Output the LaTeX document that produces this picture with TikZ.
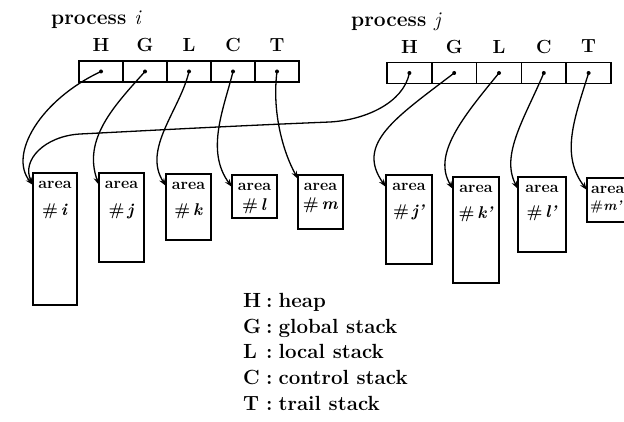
\documentclass[tikz,border=0pt]{standalone}
\usepackage{fontspec}
\usetikzlibrary{arrows.meta,calc}
\begin{document}
\begin{tikzpicture}[x=1pt,y=-1pt,
  cell/.style={draw, line width=1.5pt, minimum width=44pt, minimum height=21pt, inner sep=0pt, outer sep=0pt},
  abox/.style={draw, line width=1.9pt, inner sep=0pt, outer sep=0pt, anchor=north west},
  lbl/.style={font=\fontsize{19}{21}\selectfont\bfseries, inner sep=0pt},
  ptitle/.style={font=\fontsize{21}{23}\selectfont\bfseries\addfontfeatures{LetterSpace=8}, inner sep=0pt, anchor=base west},
  atext/.style={font=\fontsize{16}{18}\selectfont\bfseries, inner sep=0pt},
  ntext/.style={font=\fontsize{17}{19}\selectfont\bfseries, inner sep=0pt},
  ptr/.style={line width=1.3pt, -{Stealth[length=8pt,width=5.5pt]}},
  leg/.style={font=\fontsize{20.5}{23}\selectfont\bfseries, inner sep=0pt, anchor=base west},
  dot/.style={circle, fill, inner sep=0pt, minimum size=4pt}]
\clip (0,0) rectangle (624,422);
% process titles
\node[ptitle] (pti) at (51,25) {process {\mdseries\itshape i}};
\node[ptitle] (ptj) at (351,27) {process {\mdseries\itshape j}};
% registers of process i
\foreach \n/\l [count=\k from 0] in {hi/H,gi/G,li/L,ci/C,ti/T}{
  \node[cell] (\n) at (101+44*\k,71.5) {};
  \node[lbl] (\n lab) at ($(\n.north)+(0,-16)$) {\l};
  \node[dot] (\n dot) at (\n.center) {};
}
% registers of process j
\foreach \n/\l [count=\k from 0] in {hj/H,gj/G,lj/L,cj/C,tj/T}{
  \node[cell, minimum width=44.8pt] (\n) at (409.4+44.8*\k,73) {};
  \node[lbl] (\n lab) at ($(\n.north)+(0,-16)$) {\l};
  \node[dot] (\n dot) at (\n.center) {};
}
% area boxes
\node[abox, minimum width=44pt, minimum height=132pt] (ai) at (33,173) {};
\node[abox, minimum width=45pt, minimum height=89pt] (aj) at (99,173) {};
\node[abox, minimum width=45pt, minimum height=66pt] (ak) at (166,174) {};
\node[abox, minimum width=45pt, minimum height=43pt] (al) at (232,175) {};
\node[abox, minimum width=45pt, minimum height=54pt] (am) at (298,175) {};
\node[abox, minimum width=46pt, minimum height=89pt] (aj2) at (386,175) {};
\node[abox, minimum width=46pt, minimum height=106pt] (ak2) at (453,177) {};
\node[abox, minimum width=48pt, minimum height=75pt] (al2) at (518,177) {};
\node[abox, minimum width=46pt, minimum height=44pt] (am2) at (587,178) {};
% area texts
\foreach \b/\s/\d in {ai/i/38, aj/j/38, ak/k/37, al/l/31, am/m/30, aj2/j'/37, ak2/k'/37, al2/l'/36}{
  \node[atext] (\b t1) at ($(\b.north)+(0,12)$) {area};
  \node[ntext] (\b t2) at ($(\b.north)+(0,\d)$) {\#\,\textit{\s}};
}
\node[atext, anchor=west] (am2t1) at ($(am2.north west)+(4,12)$) {area};
\node[ntext, anchor=west, font=\fontsize{14}{16}\selectfont\bfseries] (am2t2) at ($(am2.north west)+(3,29)$) {\#\textit{m'}};
% arrow end points
\foreach \b in {ai,aj,ak,al,aj2,ak2,al2,am2}{
  \coordinate (\b e) at ($(\b.north west)+(0,12)$);
}
\coordinate (ame) at ($(am.north west)+(0,4)$);
\coordinate (w1) at (330,122);
\coordinate (w2) at (80,134);
% pointers of process i
\draw[ptr] (hi.center) .. controls +(-61,28.5) and +(-25,-30) .. (aie);
\draw[ptr] (gi.center) .. controls +(-30,33.5) and +(-17,-46) .. (aje);
\draw[ptr] (li.center) .. controls +(-9,38.5) and +(-24,-37) .. (ake);
\draw[ptr] (ci.center) .. controls +(-9,36.5) and +(-27,-36) .. (ale);
\draw[ptr] (ti.center) .. controls +(-5,38.5) and +(-16,-29) .. (ame);
% pointers of process j
\draw[ptr] (hj.center) .. controls +(-6,30) and +(35,-2) .. (w1)
  .. controls +(-100,4) and +(60,-3) .. (w2)
  .. controls +(-35,2) and +(-12,-25) .. (aie);
\draw[ptr] (gj.center) .. controls +(-59,45) and +(-31,-43) .. (aj2e);
\draw[ptr] (lj.center) .. controls +(-37,45) and +(-21,-34) .. (ak2e);
\draw[ptr] (cj.center) .. controls +(-19,45) and +(-18,-34) .. (al2e);
\draw[ptr] (tj.center) .. controls +(-14,45) and +(-27,-35) .. (am2e);
% legend
\node[leg] (lh) at (243,307) {\makebox[23pt][l]{H}:\hspace{6pt}heap};
\node[leg] (lg) at (243,333) {\makebox[23pt][l]{G}:\hspace{6pt}global stack};
\node[leg] (ll) at (243,358) {\makebox[23pt][l]{L}:\hspace{6pt}local stack};
\node[leg] (lc) at (243,384) {\makebox[23pt][l]{C}:\hspace{6pt}control stack};
\node[leg] (lt) at (243,410) {\makebox[23pt][l]{T}:\hspace{6pt}trail stack};
\end{tikzpicture}
\end{document}
